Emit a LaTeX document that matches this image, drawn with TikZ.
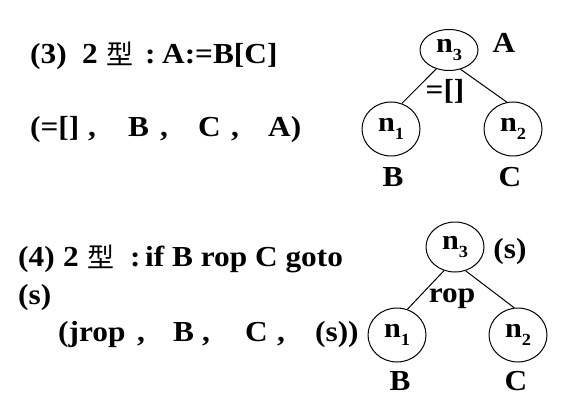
\documentclass[tikz,border=0pt]{standalone}
\usepackage{fontspec}
\setmainfont[FakeStretch=1.08]{Liberation Serif}
\newfontfamily\cjk{Noto Sans CJK SC}
\usetikzlibrary{shapes.geometric}
\newcommand{\nsub}[1]{n\raisebox{-0.28em}{\fontsize{17}{17}\selectfont #1}}
\newcommand{\xing}{{\cjk\mdseries\fontsize{27}{27}\selectfont 型}}
\begin{document}
\begin{tikzpicture}[x=1pt,y=-1pt,
  txt/.style={anchor=base west, inner sep=0, font=\fontsize{29}{29}\selectfont\bfseries},
  lbl/.style={anchor=base, inner sep=0, font=\fontsize{29}{29}\selectfont\bfseries},
  nd/.style={ellipse, draw, line width=1pt, inner sep=0, minimum width=58pt, minimum height=54pt, font=\fontsize{28}{28}\selectfont\bfseries},
  ndtop/.style={nd, minimum height=41pt},
  edge/.style={line width=1pt}]
\useasboundingbox (0,0) rectangle (577,403);
% ---- part (3)
\node[txt] (l1) at (30,64) {\makebox[52pt][l]{(3)}\makebox[24pt][l]{2}\makebox[39pt][l]{\raisebox{-1pt}{\xing}}\makebox[17pt][l]{:}A:=B[C]};
\node[txt] (l2) at (30,137) {\makebox[58pt][l]{(=[]}\makebox[40pt][l]{,}\makebox[32pt][l]{B}\makebox[38pt][l]{,}\makebox[33pt][l]{C}\makebox[37pt][l]{,}A)};
\node[ndtop] (a3) at (449,50) {\nsub{3}};
\node[nd] (a1) at (391,129) {\nsub{1}};
\node[nd] (a2) at (513,129) {\nsub{2}};
\draw[edge] (a3.236) -- (a1.67);
\draw[edge] (a3.301) -- (a2.103);
\node[lbl] (aA) at (504,53) {A};
\node[lbl] (aop) at (445,100) {=[]};
\node[lbl] (aB) at (393,186) {B};
\node[lbl] (aC) at (510,186) {C};
% ---- part (4)
\node[txt] (l4) at (18,266) {\makebox[45pt][l]{(4)}\makebox[24pt][l]{2}\makebox[43pt][l]{\raisebox{-1pt}{\xing}}\makebox[15pt][l]{:}if B rop C goto};
\node[txt] (l5) at (18,304) {(s)};
\node[txt] (l6) at (58,341) {\makebox[79pt][l]{(jrop}\makebox[36pt][l]{,}\makebox[29pt][l]{B}\makebox[43pt][l]{,}\makebox[32pt][l]{C}\makebox[38pt][l]{,}(s))};
\node[nd, minimum height=50pt] (b3) at (455,247) {\nsub{3}};
\node[nd] (b1) at (397,335) {\nsub{1}};
\node[nd] (b2) at (518,335) {\nsub{2}};
\draw[edge] (b3.245) -- (b1.68);
\draw[edge] (b3.294) -- (b2.98);
\node[lbl] (bs) at (510,258) {(s)};
\node[lbl] (bop) at (452,302) {rop};
\node[lbl] (bB) at (400,390) {B};
\node[lbl] (bC) at (516,390) {C};
\end{tikzpicture}
\end{document}
